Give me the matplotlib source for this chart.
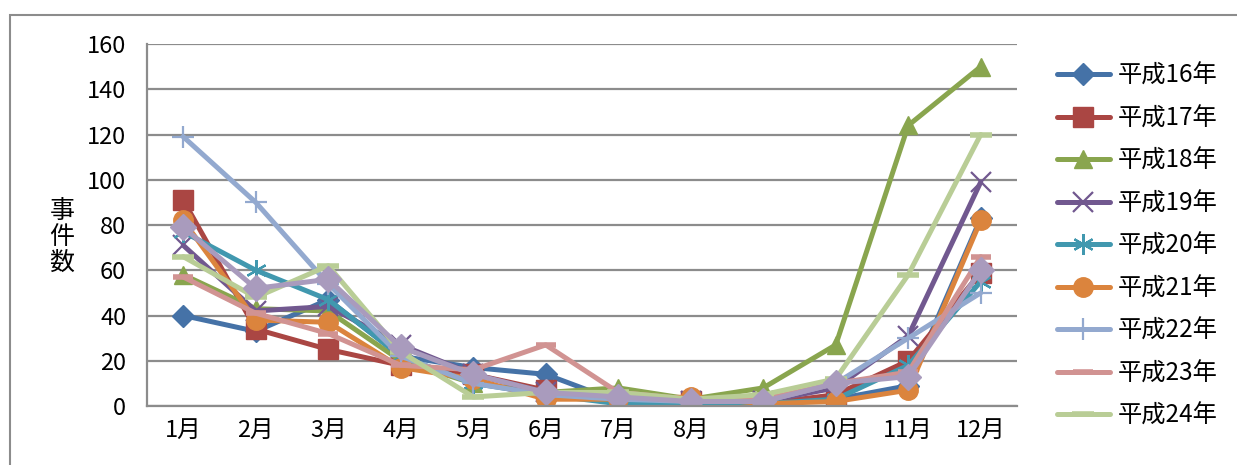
import numpy as np
import matplotlib.pyplot as plt
from matplotlib.patches import Rectangle

plt.rcParams['font.family'] = ['Noto Sans CJK JP', 'DejaVu Sans']

months = ['1月', '2月', '3月', '4月', '5月', '6月', '7月', '8月', '9月', '10月', '11月', '12月']

h16 = [40, 33, 47, 22, 17, 14, 2, 2, 1, 3, 9, 83]
h17 = [91, 34, 25, 18, 14, 7, 1, 2, 1, 5, 20, 59]
h18 = [58, 43, 42, 20, 10, 6, 8, 3, 8, 27, 124, 150]
h19 = [71, 42, 44, 27, 14, 6, 2, 2, 2, 8, 31, 99]
h20 = [77, 60, 47, 22, 10, 5, 1, 1, 1, 3, 18, 55]
h21 = [82, 38, 37, 17, 12, 3, 3, 4, 1, 2, 7, 82]
h22 = [119, 90, 54, 22, 10, 5, 3, 2, 2, 10, 30, 50]
h23 = [57, 41, 32, 18, 16, 27, 6, 3, 3, 10, 15, 66]
h24 = [66, 48, 62, 24, 4, 6, 6, 3, 5, 12, 58, 120]
h25 = [79, 52, 56, 26, 14, 6, 4, 2, 2, 10, 13, 60]

labels = ['平成16年', '平成17年', '平成18年', '平成19年', '平成20年',
          '平成21年', '平成22年', '平成23年', '平成24年', None]
series = [h16, h17, h18, h19, h20, h21, h22, h23, h24, h25]
colors = ['#4572A7', '#AA4643', '#89A54E', '#71588F', '#4198AF',
          '#DB843D', '#93A9CF', '#D19392', '#B9CD96', '#A99BBD']
markers = ['D', 's', '^', 'x', (6, 2, 0), 'o', '+', '_', '_', 'D']
msizes = [11, 14, 13, 14, 15, 14, 16, 14, 16, 13]

fig = plt.figure(figsize=(12.37, 4.65), dpi=100)
ax = fig.add_axes([147/1237, 59/465, 870/1237, 362/465])

x = np.arange(len(months))
handles = []
for ys, lab, c, m, ms in zip(series, labels, colors, markers, msizes):
    thin = m in ('x', '+') or isinstance(m, tuple)
    ln, = ax.plot(x, ys, color=c, lw=3.6, marker=m, ms=ms, mfc=c, mec=c,
                  mew=1.6 if thin else (4 if m == '_' else 1),
                  solid_capstyle='round')
    if lab:
        ln.set_label(lab)
        handles.append(ln)

ax.set_xlim(-0.5, 11.5)
ax.set_ylim(0, 160)
ax.set_yticks(range(0, 161, 20))
ax.set_xticks(x)
ax.set_xticklabels(months)
ax.yaxis.grid(True, color='#8c8c8c', lw=1.6)
ax.set_axisbelow(True)
for s in ('top', 'right'):
    ax.spines[s].set_visible(False)
for s in ('left', 'bottom'):
    ax.spines[s].set_color('#8c8c8c')
    ax.spines[s].set_linewidth(1.6)
ax.tick_params(axis='y', length=0, pad=15, labelsize=17)
ax.tick_params(axis='x', length=0, pad=9, labelsize=17)

fig.text(62/1237, 228/465, '事\n件\n数', fontsize=18, ha='center', va='center',
         linespacing=1.0)

fig.legend(handles=handles, loc='upper left', bbox_to_anchor=(1047/1237, 1 - 53/465),
           frameon=False, fontsize=17.5, handlelength=2.2, handletextpad=0.3,
           labelspacing=0.68, borderaxespad=0)

fig.add_artist(Rectangle((10/1237, -0.1), 1.2, (465 - 15)/465 + 0.1,
                         transform=fig.transFigure, fill=False,
                         edgecolor='#8c8c8c', lw=1.5))

fig.savefig('out.png', dpi=100)
